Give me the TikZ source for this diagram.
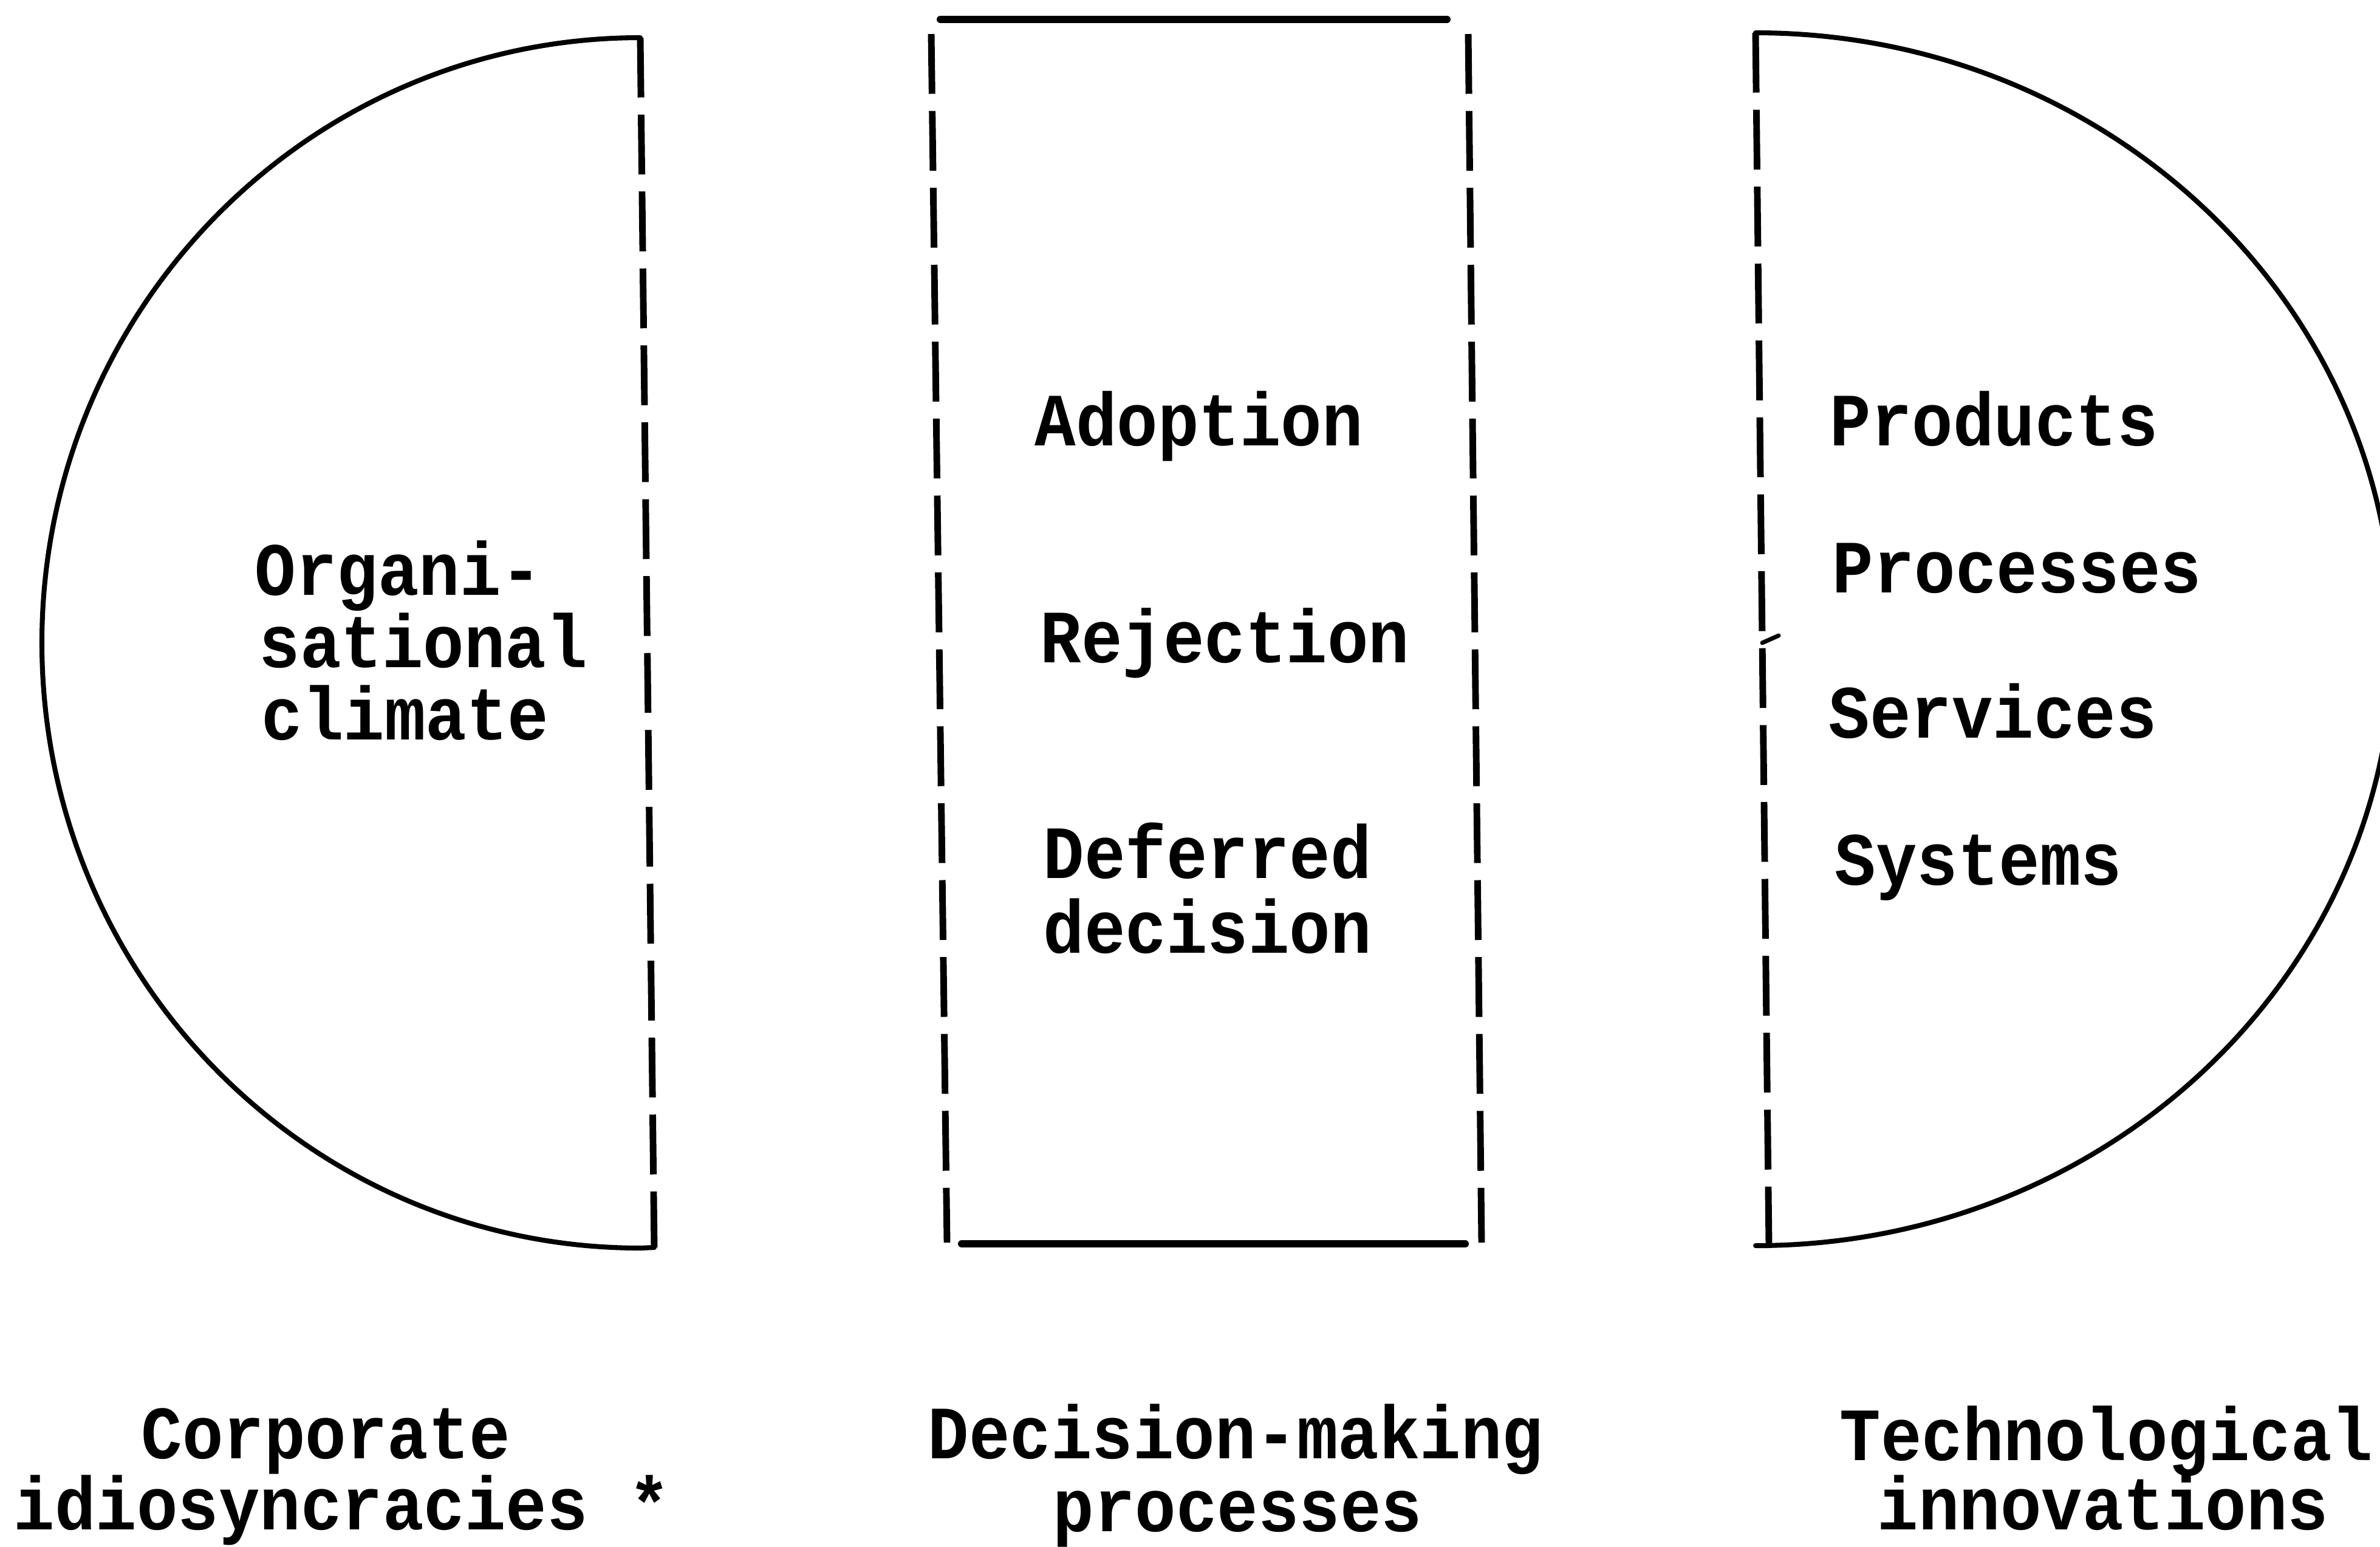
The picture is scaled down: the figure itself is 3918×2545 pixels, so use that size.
\documentclass[tikz,border=0pt]{standalone}
\usepackage{fontspec}
\newfontfamily\typewriter{Liberation Mono}

\begin{document}
\begin{tikzpicture}[x=0.01cm, y=-0.01cm,
  outline/.style={line width=2.3pt, line cap=round, line join=round},
  rule/.style={line width=3.4pt, line cap=round},
  dashedside/.style={line width=3.1pt, dash pattern=on 28pt off 8pt},
  txt/.style={font=\typewriter\bfseries\fontsize{32}{38}\selectfont,
    anchor=base west, inner sep=0pt, yscale=1.1, transform shape}]

  % page
  \fill[white] (0,0) rectangle (3918,2545);
  \useasboundingbox (0,0) rectangle (3918,2545);

  % corner points of the three figures
  \coordinate (lt) at (1054,62);
  \coordinate (lb) at (1077,2053);
  \coordinate (mlt) at (1533,56);
  \coordinate (mlb) at (1559,2045);
  \coordinate (mrt) at (2417,56);
  \coordinate (mrb) at (2439,2045);
  \coordinate (mtl) at (1548,32);
  \coordinate (mtr) at (2382,32);
  \coordinate (mbl) at (1583,2047);
  \coordinate (mbr) at (2412,2047);
  \coordinate (rt) at (2890,54);
  \coordinate (rb) at (2912,2050);
  \coordinate (tickbase) at (2901,1058);
  \coordinate (tickend) at (2928,1046);

  % left half-disc: corporate idiosyncracies (y axis points down, so angles run reversed)
  \draw[outline] (lt) arc[start angle=-90, end angle=-270, x radius=985, y radius=996] -- (lb);
  \draw[dashedside] (lt) -- (lb);

  % middle box: decision-making processes
  \draw[rule] (mtl) -- (mtr);
  \draw[rule] (mbl) -- (mbr);
  \draw[dashedside] (mlt) -- (mlb);
  \draw[dashedside] (mrt) -- (mrb);

  % right half-disc: technological innovations
  \draw[outline] (rt) arc[start angle=-90, end angle=90, x radius=1050, y radius=998] -- (rb);
  \draw[dashedside] (rt) -- (rb);
  \draw[line width=2pt, line cap=round] (tickbase) -- (tickend);

  % texts inside the figures
  \node[txt] (org1) at (419,979) {Organi-};
  \node[txt] (org2) at (426,1098) {sational};
  \node[txt] (org3) at (430,1217) {climate};

  \node[txt] (adopt) at (1703,733) {Adoption};
  \node[txt] (reject) at (1712,1090) {Rejection};
  \node[txt] (defer1) at (1717,1445) {Deferred};
  \node[txt] (defer2) at (1717,1568) {decision};

  \node[txt] (prod) at (3012,733) {Products};
  \node[txt] (proc) at (3016,975) {Processes};
  \node[txt] (serv) at (3010,1214) {Services};
  \node[txt] (syst) at (3020,1456) {Systems};

  % captions
  \node[txt] (corp1) at (232,2400) {Corporate};
  \node[txt] (corp2) at (22,2517) {idiosyncracies *};
  \node[txt] (dec1) at (1527,2400) {Decision-making};
  \node[txt] (dec2) at (1733,2520) {processes};
  \node[txt] (tech1) at (3028,2403) {Technological};
  \node[txt] (tech2) at (3090,2517) {innovations};
\end{tikzpicture}
\end{document}
